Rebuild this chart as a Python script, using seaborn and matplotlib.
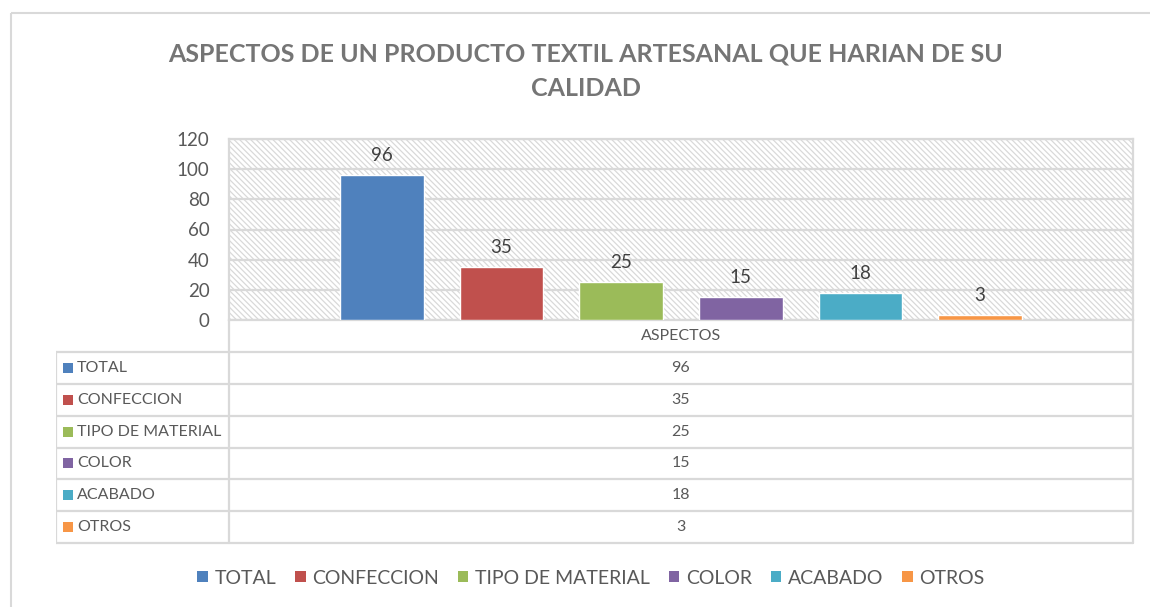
import matplotlib
matplotlib.use("Agg")
import matplotlib.pyplot as plt
import seaborn as sns
from matplotlib.patches import Rectangle, Patch
from matplotlib.lines import Line2D

# ---- data ----
categories = ["TOTAL", "CONFECCION", "TIPO DE MATERIAL", "COLOR", "ACABADO", "OTROS"]
values = [96, 35, 25, 15, 18, 3]
colors = ["#4f81bd", "#c0504d", "#9bbb59", "#8064a2", "#4bacc6", "#f79646"]
yticks = [0, 20, 40, 60, 80, 100, 120]
axis_title = "ASPECTOS"
title = "ASPECTOS DE UN PRODUCTO TEXTIL ARTESANAL QUE HARIAN DE SU\nCALIDAD"

sns.set_style("white")
plt.rcParams["font.family"] = ["Lato", "DejaVu Sans"]
plt.rcParams["hatch.linewidth"] = 0.9
plt.rcParams["hatch.color"] = "#d9d9d9"

W, H = 1150, 607
fig = plt.figure(figsize=(W / 100, H / 100), dpi=100)

def px_axes(x0, y0, x1, y1):
    return fig.add_axes([x0 / W, 1 - y1 / H, (x1 - x0) / W, (y1 - y0) / H])

GRID = "#d9d9d9"
TXT = "#595959"

# outer chart border
border = fig.add_axes([0, 0, 1, 1])
border.set_xlim(0, W); border.set_ylim(H, 0); border.axis("off")
border.add_patch(Rectangle((11, 13), W + 20, H + 20, fill=False, edgecolor=GRID, lw=1.5))

# ---- plot area ----
PL, PT, PR, PB = 229, 139, 1133, 320
ax = px_axes(PL, PT, PR, PB)
ax.add_patch(Rectangle((0, 0), 1, 1, transform=ax.transAxes, facecolor="white",
                       hatch="\\\\\\\\\\\\", edgecolor="#d9d9d9", lw=0, zorder=0))
sns.barplot(x=categories, y=values, hue=categories, palette=colors, order=categories,
            hue_order=categories, width=0.70, legend=False, saturation=1, ax=ax, zorder=3)
ax.set_ylim(0, 120)
ax.set_xlim(-1.28, len(categories) - 1 + 1.28)
ax.set_yticks(yticks)
ax.yaxis.grid(True, color=GRID, lw=1.6, zorder=1)
ax.set_axisbelow(True)
ax.set_xticks([])
ax.set_xlabel(""); ax.set_ylabel("")
for s in ["top", "right", "left", "bottom"]:
    ax.spines[s].set_visible(True)
    ax.spines[s].set_color(GRID)
    ax.spines[s].set_linewidth(1.6)
ax.tick_params(axis="y", length=0, pad=14, labelsize=13.5, labelcolor=TXT)
for c in ax.containers:
    ax.bar_label(c, fmt="%g", padding=8, fontsize=13.5, color="#404040")

# ---- data table ----
TL, TT, TB = 56, 320, 543
tab = px_axes(TL, TT - 2, PR + 2, TB + 2)
tab.set_xlim(TL, PR + 2); tab.set_ylim(TB + 2, TT - 2); tab.axis("off")
row_h = (TB - 352) / len(categories)
rows_y = [352 + i * row_h for i in range(len(categories) + 1)]
cx = (PL + PR) / 2
for y in rows_y:
    tab.add_line(Line2D([TL, PR], [y, y], color=GRID, lw=1.6))
tab.add_line(Line2D([TL, TL], [352, TB], color=GRID, lw=1.6))
tab.add_line(Line2D([PL, PL], [TT, TB], color=GRID, lw=1.6))
tab.add_line(Line2D([PR, PR], [TT, TB], color=GRID, lw=1.6))
tab.text(cx, (TT + 352) / 2, axis_title, ha="center", va="center", fontsize=11.5, color=TXT)
for i, (cat, v, col) in enumerate(zip(categories, values, colors)):
    yc = rows_y[i] + row_h / 2
    tab.add_patch(Rectangle((63, yc - 5), 10, 10, facecolor=col, lw=0))
    tab.text(77, yc, cat, ha="left", va="center", fontsize=11.5, color=TXT)
    tab.text(cx, yc, f"{v}", ha="center", va="center", fontsize=11.5, color=TXT)

# ---- legend ----
handles = [Patch(facecolor=c, edgecolor="none", label=l) for l, c in zip(categories, colors)]
fig.legend(handles=handles, loc="center", bbox_to_anchor=(591 / W, 1 - 578 / H), ncol=6,
           frameon=False, fontsize=14, handlelength=0.55, handleheight=0.55,
           handletextpad=0.35, columnspacing=0.95, labelcolor=TXT)

# ---- title ----
fig.text(586 / W, 1 - 71 / H, title, ha="center", va="center", fontsize=18,
         fontweight="bold", color="#757575", linespacing=1.6)

fig.savefig("out.png", dpi=100)
